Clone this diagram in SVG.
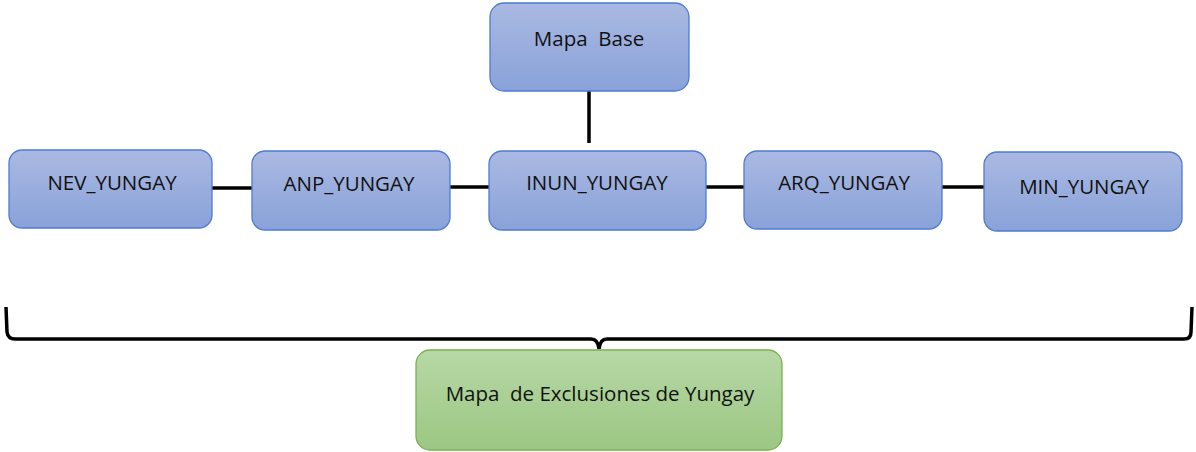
<svg xmlns="http://www.w3.org/2000/svg" width="1196" height="452" viewBox="0 0 1196 452">
<style>
.b{fill:url(#gb);stroke:#4f7bd0;stroke-width:1.3}
.g{fill:url(#gg);stroke:#78b152;stroke-width:1.3}
.t{font-family:"Open Sans","Liberation Sans",sans-serif;font-size:20.5px;fill:#111;text-anchor:middle;white-space:pre}
.c{stroke:#000;stroke-width:3.5;fill:none}
</style>
<defs>
<linearGradient id="gb" x1="0" y1="0" x2="0" y2="1"><stop offset="0" stop-color="#aab9e2"/><stop offset="1" stop-color="#89a2d9"/></linearGradient>
<linearGradient id="gg" x1="0" y1="0" x2="0" y2="1"><stop offset="0" stop-color="#b7d8a6"/><stop offset="1" stop-color="#9cc783"/></linearGradient>
</defs>
<g id="connectors">
<line class="c" x1="589" y1="91" x2="589" y2="143"/>
<line class="c" x1="212" y1="188" x2="252" y2="188"/>
<line class="c" x1="450" y1="187" x2="489" y2="187"/>
<line class="c" x1="706" y1="187" x2="744" y2="187"/>
<line class="c" x1="942" y1="187" x2="984" y2="187"/>
<path class="c" d="M6,307 L7,332 Q8,339 15,339 L591,339 Q598,339 599,349 Q600,339 607,339 L1184,339 Q1191,339 1191,332 L1192,307"/>
</g>
<g id="mapa-base"><rect class="b" x="490" y="3" width="199" height="88" rx="14"/><text class="t" x="589" y="46" xml:space="preserve">Mapa  Base</text></g>
<g id="nev"><rect class="b" x="9" y="150" width="203" height="78" rx="13"/><text class="t" x="112" y="190">NEV_YUNGAY</text></g>
<g id="anp"><rect class="b" x="252" y="151" width="198" height="79" rx="13"/><text class="t" x="349" y="191">ANP_YUNGAY</text></g>
<g id="inun"><rect class="b" x="489" y="151" width="217" height="79" rx="13"/><text class="t" x="597" y="190">INUN_YUNGAY</text></g>
<g id="arq"><rect class="b" x="744" y="151" width="198" height="78" rx="13"/><text class="t" x="844" y="190">ARQ_YUNGAY</text></g>
<g id="min"><rect class="b" x="984" y="152" width="198" height="79" rx="13"/><text class="t" x="1084" y="194">MIN_YUNGAY</text></g>
<g id="mapa-exclusiones"><rect class="g" x="416" y="350" width="366" height="100" rx="14"/><text class="t" x="600" y="401" xml:space="preserve">Mapa  de Exclusiones de Yungay</text></g>
</svg>
